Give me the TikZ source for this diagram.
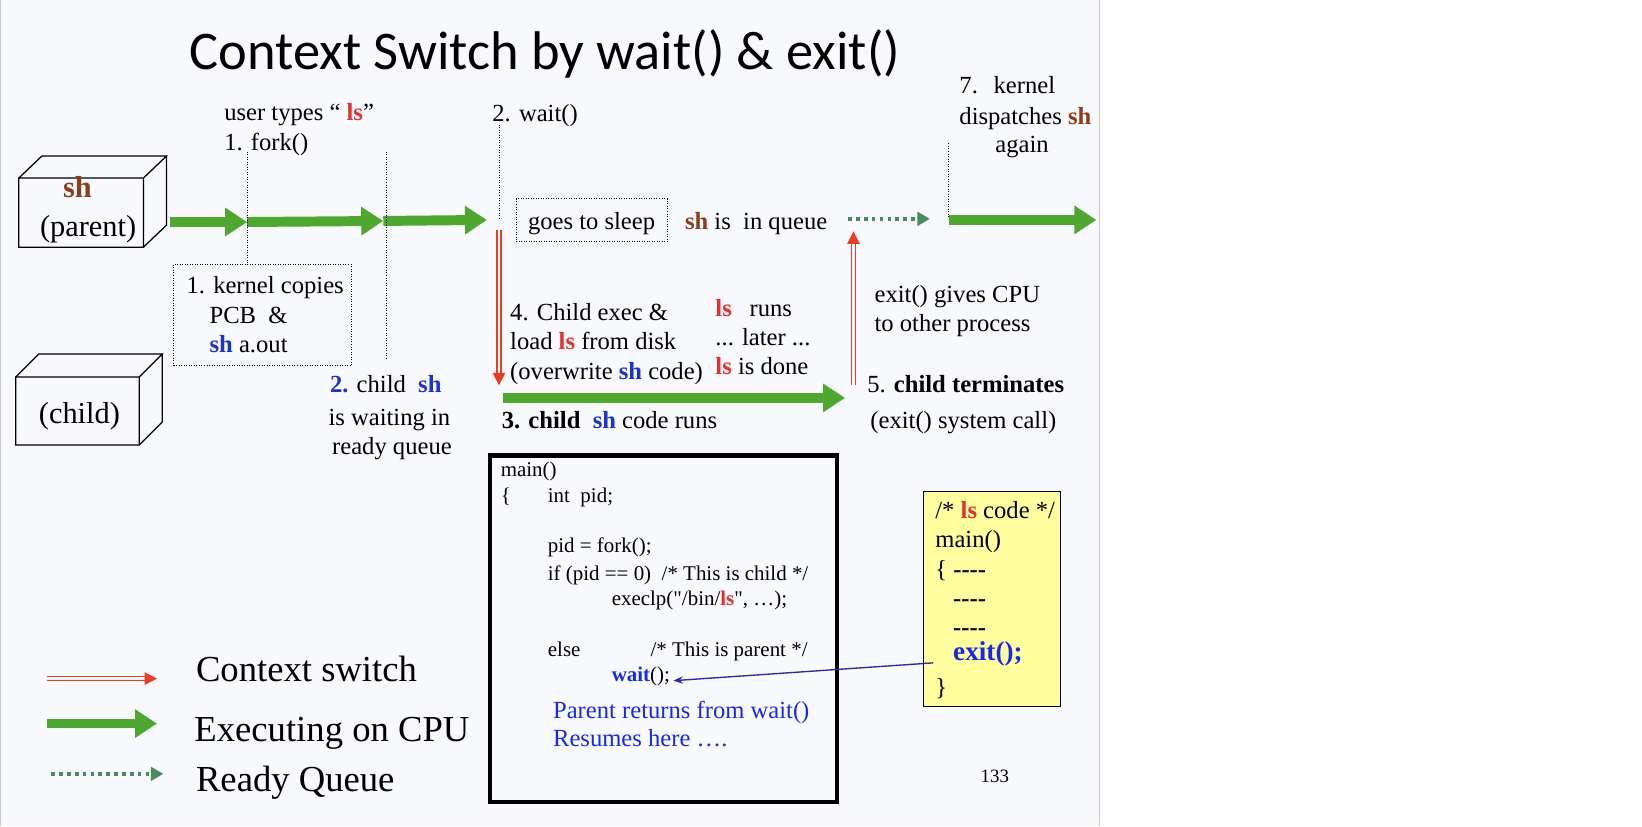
\documentclass[tikz,border=0pt]{standalone}
\usepackage{fontspec}
\setmainfont{Liberation Serif}
\newfontfamily\titlefont{Carlito}
\newfontfamily\nolig{Liberation Serif}[Mapping=]
\usepackage{xcolor}
\usepackage{tikz}
\usetikzlibrary{arrows.meta}

\definecolor{slidebg}{RGB}{248,249,253}
\definecolor{cpugreen}{RGB}{78,167,46}
\definecolor{rqgreen}{RGB}{72,140,92}
\definecolor{ctxred}{RGB}{232,62,40}
\definecolor{lsred}{RGB}{225,50,50}
\definecolor{shbrown}{RGB}{140,62,28}
\definecolor{shblue}{RGB}{28,50,200}
\definecolor{codeblue}{RGB}{25,40,230}
\definecolor{linkblue}{RGB}{50,40,160}
\definecolor{noteyellow}{RGB}{255,255,160}

\newcommand{\lsw}{\textcolor{lsred}{\textbf{ls}}}
\newcommand{\shr}{\textcolor{shbrown}{\textbf{sh}}}
\newcommand{\shu}{\textcolor{shblue}{\textbf{sh}}}
\newcommand{\dq}{{\nolig\symbol{34}}}

\begin{document}
\begin{tikzpicture}[x=1pt, y=-1pt,
  greenarr/.style={draw=cpugreen, line width=9.5pt, -{Triangle[length=21pt,width=26pt]}},
  ctxarr/.style={draw=ctxred, double=slidebg, double distance=2.4pt, line width=1.2pt, -{Triangle[length=12pt,width=12pt]}},
  rqarr/.style={draw=rqgreen, line width=3.5pt, dash pattern=on 3.5pt off 4pt, -{Triangle[length=12pt,width=13pt]}},
  guide/.style={line width=0.9pt, dash pattern=on 0.9pt off 1.5pt},
  txt/.style={anchor=base west, inner sep=0pt, font=\fontsize{23.5}{28}\selectfont},
  code/.style={anchor=base west, inner sep=0pt, font=\fontsize{20}{24}\selectfont},
  legend/.style={anchor=base west, inner sep=0pt, font=\fontsize{35}{40}\selectfont},
  boxtxt/.style={anchor=base west, inner sep=0pt, font=\fontsize{29}{34}\selectfont}]
\useasboundingbox (0,0) rectangle (1568,789);
\fill[white] (0,0) rectangle (1568,789);
\fill[slidebg] (0,0) rectangle (1050,789);
\draw[gray!45, line width=1pt] (0.5,0) -- (0.5,789);
\draw[gray!45, line width=1pt] (1050,0) -- (1050,789);

% title
\node[anchor=base west, inner sep=0pt, font=\titlefont\fontsize{52}{60}\selectfont] (title) at (181,66) {Context Switch by wait() \& exit()};

% processes
\draw[line width=1.2pt] (18,170) rectangle (137,236) (18,170) -- (40,149) -- (159,149) -- (137,170) (159,149) -- (159,215) -- (137,236);
\node[boxtxt] (psh) at (60,189) {\shr};
\node[boxtxt] (parent) at (38,226) {(parent)};
\draw[line width=1.2pt] (15,360) rectangle (133,425) (15,360) -- (37,338) -- (155,338) -- (133,360) (155,338) -- (155,403) -- (133,425);
\node[boxtxt] (child) at (37,404) {(child)};

% parent time line
\coordinate (p0) at (162,212);
\coordinate (p1) at (236,212);
\coordinate (p2) at (366,211);
\coordinate (p3) at (465,210);
\draw[greenarr] (p0) -- (p1);
\draw[greenarr] (p1) -- (p2);
\draw[greenarr] (p2) -- (p3);
\draw[guide] (236,145) -- (236,253);
\draw[guide] (369,145) -- (369,342);
\node[txt] (usertypes) at (214,115) {user types “ \lsw”};
\node[txt] (fork) at (214,144) {1. fork()};
\draw[guide] (166,253) rectangle (336,349);
\node[txt] (copy1) at (178,280) {1. kernel copies};
\node[txt] (copy2) at (200,308.5) {PCB~~\&};
\node[txt] (copy3) at (200,337) {\shu{} a.out};
\node[txt] (wait1) at (315,375) {\textcolor{shblue}{\textbf{2.}} child~~\shu};
\node[txt] (wait2) at (313.5,406) {is waiting in};
\node[txt] (wait3) at (317,434) {ready queue};

% wait and sleep
\node[txt] (waitlbl) at (470,116) {2. wait()};
\draw[guide] (476.5,119) -- (476.5,208);
\draw[guide] (493,190) rectangle (637,231);
\node[txt] (sleep) at (504,219) {goes to sleep};
\node[txt] (queue) at (654,219) {\shr{} is~~in queue};
\coordinate (q0) at (810,209);
\coordinate (q1) at (888,209);
\draw[rqarr] (q0) -- (q1);

% child runs
\coordinate (s0) at (476.5,220);
\coordinate (s1) at (476.5,368);
\draw[ctxarr] (s0) -- (s1);
\node[txt] (exec1) at (487,306) {4. Child exec \&};
\node[txt] (exec2) at (487,334) {load \lsw{} from disk};
\node[txt] (exec3) at (487,362) {(overwrite \shu{} code)};
\node[txt] (runs1) at (683,302) {\lsw\hspace{17pt}runs};
\node[txt] (runs2) at (683,330) {... later ...};
\node[txt] (runs3) at (683,358) {\lsw{} is done};
\coordinate (c0) at (480,380);
\coordinate (c1) at (807,380);
\draw[greenarr] (c0) -- (c1);
\node[txt] (childruns) at (479,409) {\textbf{3. child}~~\shu{} code runs};

% exit
\coordinate (e0) at (815,368);
\coordinate (e1) at (815,221);
\draw[ctxarr] (e0) -- (e1);
\node[txt] (gives1) at (835,289) {exit() gives CPU};
\node[txt] (gives2) at (835,317) {to other process};
\node[txt] (term1) at (828,375) {5. \textbf{child terminates}};
\node[txt] (term2) at (831,409) {(exit() system call)};

% parent again
\node[txt] (disp1) at (916,89) {7.\hspace{15pt}kernel};
\node[txt] (disp2) at (916,119) {dispatches \shr};
\node[txt, anchor=base] (disp3) at (976,146) {again};
\draw[guide] (906,137) -- (906,207);
\coordinate (r0) at (906,210);
\coordinate (r1) at (1047,210);
\draw[greenarr] (r0) -- (r1);

% sh code
\draw[line width=4pt] (468,435) rectangle (799,766);
\node[code] (m1) at (478,455) {main()};
\node[code] (m2) at (478,480) {\makebox[45pt][l]{\{}int~~pid;};
\node[code] (m3) at (523,528) {pid = fork();};
\node[code] (m4) at (523,554) {if (pid == 0)~~/* This is child */};
\node[code] (m5) at (584,578) {execlp(\dq/bin/\lsw\dq, …);};
\node[code] (m6) at (523,627) {\makebox[98pt][l]{else}/* This is parent */};
\node[code] (waitcall) at (584,651) {\textcolor{codeblue}{\textbf{wait}}();};
\node[txt, text=codeblue] (ret1) at (528,686) {Parent returns from wait()};
\node[txt, text=codeblue] (ret2) at (528,713) {Resumes here ….};

% ls code
\draw[line width=1.2pt, fill=noteyellow] (882,469) rectangle (1013,675);
\node[txt] (l1) at (893,495) {/* \lsw{} code */};
\node[txt] (l2) at (893,523) {main()};
\node[txt] (l3) at (893,551) {\{ \textbf{-{}-{}-{}-}};
\node[txt] (l4) at (910,579) {\textbf{-{}-{}-{}-}};
\node[txt] (l5) at (910,607) {\textbf{-{}-{}-{}-}};
\node[anchor=base west, inner sep=0pt, font=\fontsize{26}{30}\selectfont\bfseries, text=codeblue] (exitcall) at (910,631) {exit();};
\node[txt] (l7) at (893,664) {\}};
\coordinate (x0) at (891,633);
\coordinate (x1) at (643,650);
\draw[linkblue, line width=1.3pt, -{Stealth[length=9pt,width=7pt]}] (x0) -- (x1);

\node[anchor=base, inner sep=0pt, font=\fontsize{18}{22}\selectfont] (page) at (950,747) {133};

% legend
\coordinate (k0) at (45,648);
\coordinate (k1) at (150,648);
\draw[ctxarr] (k0) -- (k1);
\node[legend] (kctx) at (187,651) {Context switch};
\coordinate (k2) at (45,691);
\coordinate (k3) at (150,691);
\draw[greenarr, line width=8pt] (k2) -- (k3);
\node[legend] (kcpu) at (185.5,708.5) {Executing on CPU};
\coordinate (k4) at (49,739);
\coordinate (k5) at (156,739);
\draw[rqarr] (k4) -- (k5);
\node[legend] (krq) at (187,756) {Ready Queue};
\end{tikzpicture}
\end{document}
